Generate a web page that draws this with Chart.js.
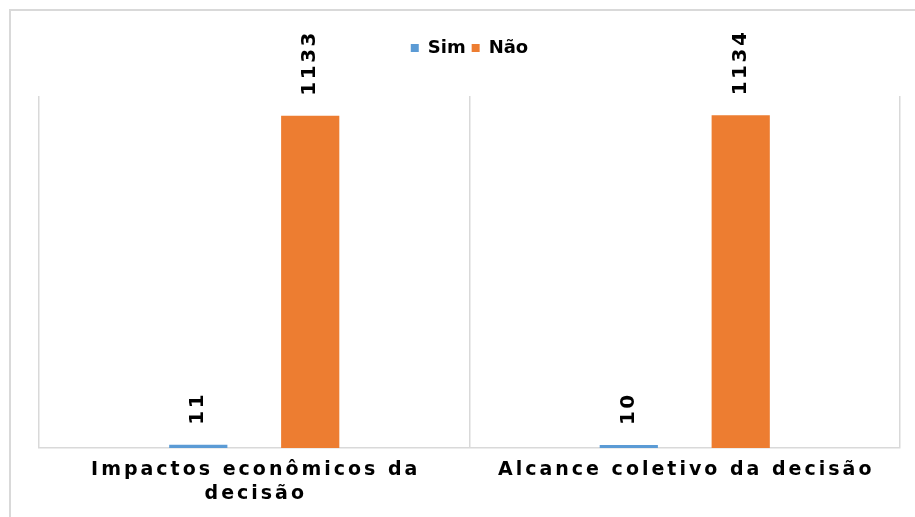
<!DOCTYPE html>
<html>
<head>
<meta charset="utf-8">
<script src="https://cdn.jsdelivr.net/npm/chart.js@4.4.1/dist/chart.umd.min.js"></script>
<style>
  html, body { margin: 0; padding: 0; background: #fff; overflow: hidden; }
  #frame {
    position: absolute; left: 9px; top: 9px;
    width: 930px; height: 530px;
    border: 2px solid #d9d9d9; box-sizing: border-box;
  }
  #chart { position: absolute; left: 0; top: 0; }
</style>
</head>
<body>
<div id="frame"></div>
<canvas id="chart" width="915" height="517"></canvas>
<script>
const categories = [
  ["Impactos econômicos da", "decisão"],
  ["Alcance coletivo da decisão"]
];
const seriesNames = ["Sim", "Não"];
const simValues = [11, 10];
const naoValues = [1133, 1134];
const colors = ["#5B9BD5", "#ED7D31"];

const FONT = "'DejaVu Sans', sans-serif";

// push the plot area down below the legend
const legendGap = {
  id: "legendGap",
  beforeInit(chart) {
    const fit = chart.legend.fit;
    chart.legend.fit = function () {
      fit.bind(chart.legend)();
      this.height += 29;
    };
  }
};

// rotated value labels above each bar
const barValues = {
  id: "barValues",
  afterDatasetsDraw(chart) {
    const ctx = chart.ctx;
    ctx.save();
    ctx.fillStyle = "#000";
    ctx.font = "bold 20px " + FONT;
    ctx.textAlign = "left";
    ctx.textBaseline = "middle";
    ctx.letterSpacing = "2.5px";
    chart.data.datasets.forEach((ds, di) => {
      chart.getDatasetMeta(di).data.forEach((bar, i) => {
        ctx.save();
        ctx.translate(bar.x, bar.y - 20);
        ctx.rotate(-Math.PI / 2);
        ctx.fillText(String(ds.data[i]), 0, 0);
        ctx.restore();
      });
    });
    ctx.restore();
  }
};

// category labels with wide letter spacing
const categoryLabels = {
  id: "categoryLabels",
  afterDraw(chart) {
    const ctx = chart.ctx;
    const x = chart.scales.x;
    const bottom = chart.chartArea.bottom;
    ctx.save();
    ctx.fillStyle = "#000";
    ctx.font = "bold 19px " + FONT;
    ctx.textAlign = "center";
    ctx.textBaseline = "middle";
    ctx.letterSpacing = "3px";
    categories.forEach((lines, i) => {
      const cx = x.getPixelForValue(i);
      lines.forEach((line, li) => {
        ctx.fillText(line, cx + 1.5, bottom + 22 + li * 24);
      });
    });
    ctx.restore();
  }
};

new Chart(document.getElementById("chart"), {
  type: "bar",
  data: {
    labels: categories.map((c) => c.join(" ")),
    datasets: [
      {
        label: seriesNames[0],
        data: simValues,
        backgroundColor: colors[0],
        categoryPercentage: 0.52,
        barPercentage: 0.52
      },
      {
        label: seriesNames[1],
        data: naoValues,
        backgroundColor: colors[1],
        categoryPercentage: 0.52,
        barPercentage: 0.52
      }
    ]
  },
  options: {
    responsive: false,
    animation: false,
    devicePixelRatio: 1,
    layout: { padding: { left: 39, right: 15, top: 33, bottom: 69 } },
    scales: {
      x: {
        ticks: { display: false },
        grid: { color: "#d9d9d9", lineWidth: 1.5, drawTicks: false, offset: true },
        border: { color: "#d9d9d9", width: 1.5 }
      },
      y: {
        display: false,
        min: 0,
        max: 1200
      }
    },
    plugins: {
      legend: {
        position: "top",
        labels: {
          boxWidth: 8,
          boxHeight: 8,
          padding: 6,
          color: "#000",
          font: { family: FONT, size: 18, weight: "bold" }
        }
      },
      tooltip: { enabled: false }
    }
  },
  plugins: [legendGap, barValues, categoryLabels]
});
</script>
</body>
</html>
